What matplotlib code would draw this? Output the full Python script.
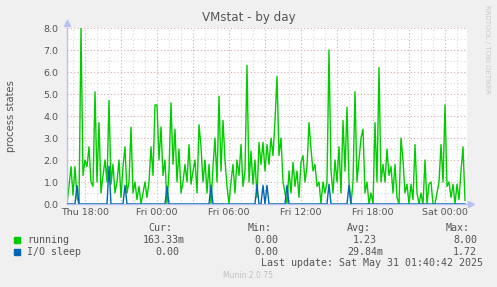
import matplotlib.pyplot as plt
import numpy as np

# 10 minute samples, starting Thu 16:30 (hours counted from Thu 00:00)
start_hour = 16.5
step_hours = 1.0 / 6

running = [
    0.0, 0.8, 1.7, 0.4, 1.7, 0.3, 0.0, 8.0, 1.3, 2.0,
    1.7, 2.6, 1.0, 0.8, 5.1, 1.0, 3.7, 0.5, 1.3, 2.0,
    1.0, 4.7, 0.9, 1.8, 0.5, 1.0, 2.0, 0.3, 1.7, 2.6,
    0.5, 1.0, 3.5, 0.5, 1.0, 0.2, 0.8, 0.0, 0.5, 1.0,
    0.3, 1.0, 2.6, 1.3, 4.5, 4.5, 2.0, 3.5, 1.3, 2.0,
    0.0, 1.5, 4.6, 1.8, 3.4, 1.0, 2.5, 0.5, 1.0, 1.8,
    1.0, 2.7, 0.9, 1.5, 2.0, 0.5, 3.6, 2.6, 1.0, 2.0,
    0.5, 1.8, 0.0, 1.7, 3.0, 1.0, 4.9, 1.5, 3.8, 2.0,
    0.8, 0.0, 1.0, 1.8, 0.5, 2.0, 1.3, 2.7, 0.8, 1.5,
    6.3, 1.0, 2.4, 0.9, 2.0, 0.3, 2.8, 1.8, 2.8, 1.5,
    2.7, 1.8, 3.0, 2.2, 3.8, 5.8, 2.2, 3.0, 1.0, 0.5,
    0.0, 1.5, 0.5, 1.9, 0.8, 1.5, 0.3, 1.9, 2.2, 1.0,
    1.7, 3.7, 2.5, 1.5, 1.8, 0.8, 1.0, 0.0, 1.0, 0.5,
    1.0, 7.0, 1.5, 0.5, 2.0, 1.0, 2.6, 0.5, 3.8, 1.5,
    4.4, 1.0, 0.0, 1.0, 5.1, 1.0, 2.0, 3.0, 3.4, 0.5,
    1.0, 0.0, 0.5, 0.0, 3.7, 1.0, 6.2, 1.0, 1.8, 1.0,
    2.5, 1.3, 1.7, 0.5, 1.8, 0.3, 0.0, 3.0, 2.0, 0.5,
    0.9, 0.0, 0.9, 0.2, 2.7, 0.5, 0.0, 0.5, 0.0, 2.0,
    0.0, 0.9, 1.0, 0.0, 0.0, 0.5, 1.0, 2.7, 1.0, 4.5,
    0.8, 1.0, 0.3, 0.9, 0.0, 0.9, 0.2, 1.5, 2.6, 0.16,
]

io_sleep = [
    0, 0, 0, 0, 0, 0.85, 0, 0, 0, 0,
    0, 0, 0, 0, 0, 0, 0, 0, 0, 0,
    0, 1.72, 0, 0, 0, 0, 0, 0, 0, 0.85,
    0, 0, 0, 0, 0, 0, 0, 0, 0, 0,
    0, 0, 0, 0, 0, 0, 0, 0, 0, 0,
    0.8, 0, 0, 0, 0, 0, 0, 0, 0, 0,
    0, 0, 0, 0, 0, 0, 0, 0, 0, 0,
    0, 0, 0.85, 0, 0, 0, 0, 0, 0, 0,
    0, 0, 0, 0, 0, 0, 0, 0, 0, 0,
    0, 0, 0, 0, 0, 0.9, 0, 0, 0.85, 0,
    0.85, 0, 0, 0, 0, 0, 0, 0, 0, 0,
    0.85, 0, 0, 0, 0, 0, 0, 0, 0, 0,
    0, 0, 0, 0, 0, 0, 0, 0, 0, 0,
    0, 0.9, 0, 0, 0, 0, 0, 0, 0, 0,
    0, 0.85, 0, 0, 0, 0, 0, 0, 0, 0,
    0, 0, 0, 0, 0, 0, 0, 0, 0, 0,
    0, 0, 0, 0, 0, 0, 0, 0, 0, 0,
    0, 0, 0, 0, 0, 0, 0, 0, 0, 0,
    0, 0, 0, 0, 0, 0, 0, 0, 0, 0,
    0, 0, 0, 0, 0, 0, 0, 0, 0, 0,
]

tick_hours = [18, 24, 30, 36, 42, 48]
tick_labels = ["Thu 18:00", "Fri 00:00", "Fri 06:00", "Fri 12:00", "Fri 18:00", "Sat 00:00"]

legend_names = ["running", "I/O sleep"]
legend_colors = ["#00cc00", "#0066b3"]
stats_cur = ["163.33m", "0.00"]
stats_min = ["0.00", "0.00"]
stats_avg = ["1.23", "29.84m"]
stats_max = ["8.00", "1.72"]

W, H = 497, 287
bg = "#f0f0f0"
txt = "#555555"

fig = plt.figure(figsize=(W / 100, H / 100), dpi=100, facecolor=bg)
ax = fig.add_axes([67 / W, 1 - 204 / H, 400 / W, 176 / H])
ax.set_facecolor("white")

x_left = start_hour
x_right = start_hour + 400 / 12
times = start_hour + np.arange(len(running)) * step_hours

# grid: grey every hour / 0.5, red every 3 hours / 1.0
for h in np.arange(17, 50):
    major = (h % 3 == 0)
    ax.axvline(h, color="#e0a8a8" if major else "#d8d8d8", lw=0.8,
               linestyle=(0, (1, 2)), zorder=0)
for v in np.arange(0.5, 8.01, 0.5):
    major = (v % 1 == 0)
    ax.axhline(v, color="#e0a8a8" if major else "#d8d8d8", lw=0.8,
               linestyle=(0, (1, 2)), zorder=0)

ax.plot(times, running, color=legend_colors[0], lw=1.0, zorder=2)
ax.plot(times, io_sleep, color=legend_colors[1], lw=1.0, zorder=3)

ax.set_xlim(x_left, x_right)
ax.set_ylim(0, 8)
ax.set_yticks(np.arange(0, 8.1, 1.0))
ax.set_yticklabels(["%.1f" % v for v in np.arange(0, 8.1, 1.0)])
ax.set_xticks(tick_hours)
ax.set_xticklabels(tick_labels)
ax.tick_params(axis="both", length=0, labelsize=6.8, colors=txt)
ax.tick_params(axis="y", pad=6)
ax.tick_params(axis="x", pad=3)

for s in ["top", "right"]:
    ax.spines[s].set_visible(False)
for s in ["left", "bottom"]:
    ax.spines[s].set_color("#b8c0f0")
    ax.spines[s].set_linewidth(1.0)
ax.plot([0], [1.03], marker="^", color="#b8c0f0", markersize=4,
        transform=ax.transAxes, clip_on=False)
ax.plot([1.01], [0], marker=">", color="#b8c0f0", markersize=4,
        transform=ax.transAxes, clip_on=False)


def px(x, y):
    return x / W, 1 - y / H


fig.text(*px(248.5, 18), "VMstat - by day", ha="center", va="center",
         fontsize=8.6, color=txt)
fig.text(*px(11, 116), "process states", ha="center", va="center",
         rotation=90, fontsize=7.2, color=txt)
fig.text(*px(487, 5), "RRDTOOL / TOBI OETIKER", ha="center", va="top",
         rotation=270, fontsize=5.0, color="#c8c8c8")

mono = "DejaVu Sans Mono"
fs = 7.2
for label, xe in zip(["Cur:", "Min:", "Avg:", "Max:"], [172, 272, 371, 470]):
    fig.text(*px(xe, 228), label, ha="right", va="center", fontsize=fs,
             family=mono, color=txt)

ends = {"cur": [185, 179], "min": [278, 278], "avg": [377, 383], "max": [477, 477]}
for i, name in enumerate(legend_names):
    y = 240 + 12 * i
    fig.patches.append(plt.Rectangle(px(14, y + 3), 6 / W, 6 / H,
                                     transform=fig.transFigure,
                                     color=legend_colors[i]))
    fig.text(*px(27, y), name, ha="left", va="center", fontsize=fs,
             family=mono, color=txt)
    fig.text(*px(ends["cur"][i], y), stats_cur[i], ha="right", va="center",
             fontsize=fs, family=mono, color=txt)
    fig.text(*px(ends["min"][i], y), stats_min[i], ha="right", va="center",
             fontsize=fs, family=mono, color=txt)
    fig.text(*px(ends["avg"][i], y), stats_avg[i], ha="right", va="center",
             fontsize=fs, family=mono, color=txt)
    fig.text(*px(ends["max"][i], y), stats_max[i], ha="right", va="center",
             fontsize=fs, family=mono, color=txt)

fig.text(*px(483, 263), "Last update: Sat May 31 01:40:42 2025", ha="right",
         va="center", fontsize=fs, family=mono, color=txt)
fig.text(*px(248, 276), "Munin 2.0.75", ha="center", va="center",
         fontsize=5.5, color="#c0c0c0")

fig.savefig("out.png", dpi=100, facecolor=bg)
